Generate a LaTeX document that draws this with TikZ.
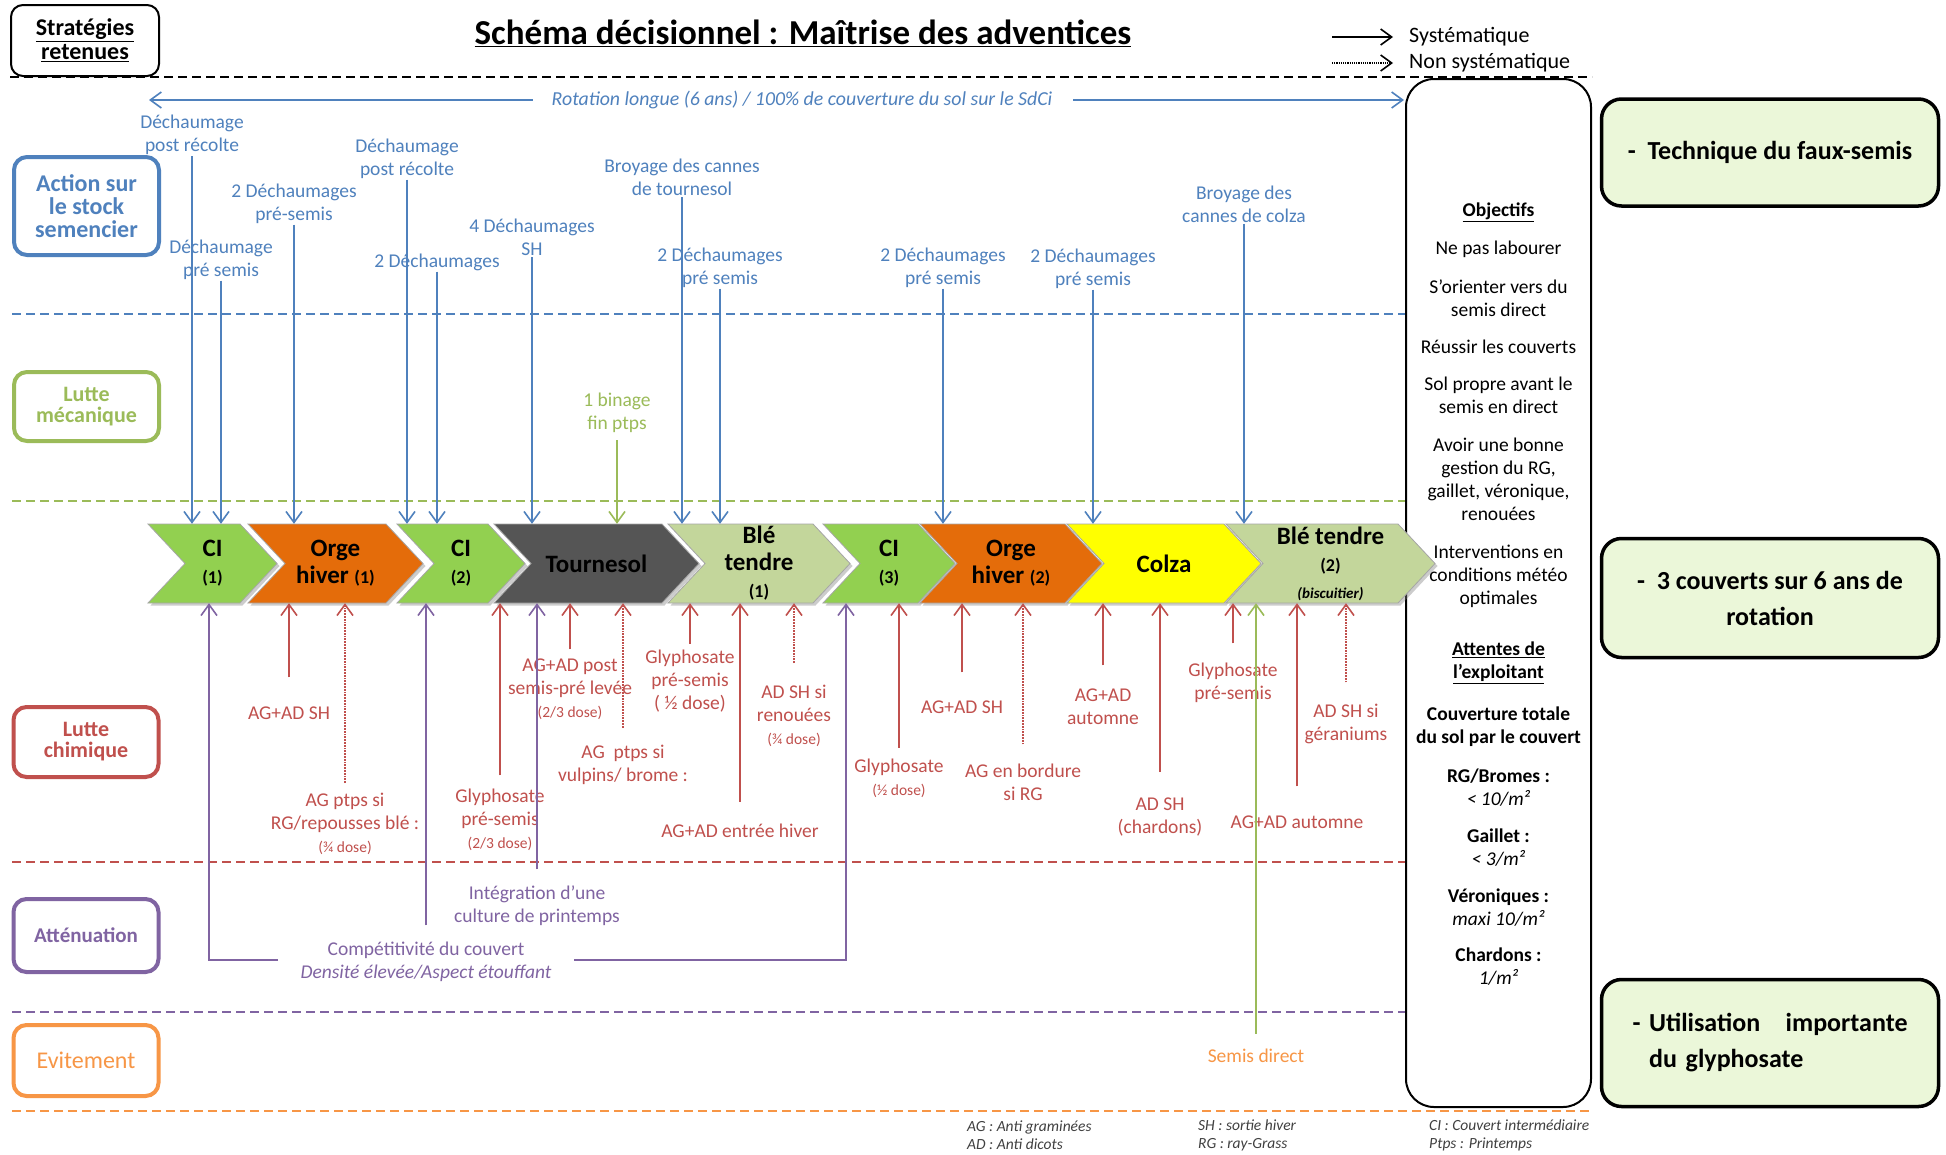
\documentclass[tikz,border=0pt]{standalone}
\usepackage{fontspec}
\setmainfont{Carlito}
\usetikzlibrary{arrows.meta,shadows,positioning}
\definecolor{advblue}{HTML}{4F81BD}
\definecolor{advgreen}{HTML}{9BBB59}
\definecolor{advred}{HTML}{C0504D}
\definecolor{advpurple}{HTML}{8064A2}
\definecolor{advorange}{HTML}{F79646}
\definecolor{cigreen}{HTML}{92D050}
\definecolor{orgeorange}{HTML}{E46C0A}
\definecolor{tourgray}{HTML}{555555}
\definecolor{bleolive}{HTML}{C3D69B}
\definecolor{colzayellow}{HTML}{FFFF00}
\definecolor{stratfill}{HTML}{EBF7D9}
\definecolor{legendgray}{HTML}{404040}
\newcommand{\rang}[1]{{\fontsize{18}{20}\selectfont #1}}
\newcommand{\dose}[1]{{\fontsize{15.5}{17}\selectfont #1}}
% une culture de la rotation : nom, bord gauche, bord droit, couleur, texte
\newcommand{\chevron}[5]{%
  \filldraw[fill=#4, draw=black!35, line width=0.8pt,
    drop shadow={opacity=0.4, shadow xshift=2.5pt, shadow yshift=-2.5pt}]
    (#2,524) -- (#3,524) -- (#3+37,563.5) -- (#3,603) -- (#2,603) -- (#2+37,563.5) -- cycle;
  \node[crop] (#1) at ({(#2+#3+37)/2},563.5) {#5};}

\begin{document}
\begin{tikzpicture}[
    x=1pt, y=-1pt,
    lbl/.style={align=center, inner sep=1pt, font=\fontsize{19.5}{23}\selectfont},
    stocklbl/.style={lbl, text=advblue},
    mecalbl/.style={lbl, text=advgreen},
    chemlbl/.style={lbl, text=advred},
    attlbl/.style={lbl, text=advpurple},
    evitlbl/.style={lbl, text=advorange},
    objlbl/.style={lbl, text=black},
    leg/.style={anchor=west, align=left, inner sep=0pt, text=legendgray,
        font=\itshape\fontsize{15.5}{18}\selectfont},
    catbox/.style={draw=#1, text=#1, line width=4pt, rounded corners=13pt, fill=white,
        minimum width=145pt, align=center, font=\bfseries\fontsize{22}{21}\selectfont},
    crop/.style={align=center, inner sep=0pt, minimum height=79pt,
        font=\bfseries\fontsize{25}{27}\selectfont},
    stratbox/.style={draw=black, line width=3.5pt, rounded corners=20pt, fill=stratfill,
        minimum width=337pt, font=\bfseries\fontsize{26}{36}\selectfont},
    sep/.style={line width=2pt, dash pattern=on 9pt off 5pt},
    flow/.style={line width=1.8pt, -{Straight Barb[length=11pt, width=16pt, line width=1.6pt]}},
    stock/.style={flow, advblue},
    meca/.style={flow, advgreen},
    chem/.style={flow, advred},
    chemopt/.style={chem, densely dotted},
    att/.style={flow, advpurple}
]
\useasboundingbox (0,0) rectangle (1946,1154);
\fill[white] (0,0) rectangle (1946,1154);

% bandes
\draw[sep, black] (10,77) -- (1592,77);
\foreach \y/\c in {314/advblue, 501/advgreen, 862/advred, 1012/advpurple, 1111/advorange}
  \draw[sep, \c] (12,\y) -- (1592,\y);

% titre et legende
\node[draw, line width=2pt, rounded corners=12pt, minimum width=148pt, minimum height=71pt,
  align=center, font=\bfseries\fontsize{24}{24}\selectfont] (strat) at (85,40.5)
  {\underline{Stratégies}\\\underline{retenues}};
\node[font=\bfseries\fontsize{35}{40}\selectfont] (titre) at (803,33)
  {\underline{Schéma décisionnel : Maîtrise des adventices}};
\node[anchor=west, inner sep=1pt, font=\fontsize{22}{24}\selectfont] (syst) at (1408,37) {Systématique};
\node[anchor=west, inner sep=1pt, font=\fontsize{22}{24}\selectfont] (nonsyst) at (1408,63) {Non systématique};
\coordinate (systA) at (1332,37);
\coordinate (nonsystA) at (1332,63);
\draw[flow, black, line width=1.5pt] (systA) -- ([xshift=-15pt]syst.west);
\draw[flow, black, line width=1.2pt, densely dotted] (nonsystA) -- ([xshift=-15pt]nonsyst.west);

\node[stocklbl, font=\itshape\fontsize{19.8}{22}\selectfont] (rot) at (802,100)
  {Rotation longue (6 ans) / 100\% de couverture du sol sur le SdCi};
\coordinate (rotG) at (149,100);
\coordinate (rotD) at (1404,100);
\draw[stock, shorten <=18pt] (rot.west) -- (rotG);
\draw[stock, shorten <=20pt] (rot.east) -- (rotD);

% objectifs
\node[draw, line width=2pt, rounded corners=28pt, fill=white, minimum width=185pt,
  minimum height=1028pt] (objbox) at (1498.5,593) {};
\foreach \y/\t [count=\i] in {
    212/{\textbf{\underline{Objectifs}}},
    249/{Ne pas labourer},
    298.5/{S’orienter vers du\\semis direct},
    347/{Réussir les couverts},
    395.5/{Sol propre avant le\\semis en direct},
    479.5/{Avoir une bonne\\gestion du RG,\\gaillet, véronique,\\renouées},
    576/{Interventions en\\conditions météo\\optimales},
    663/{\textbf{\underline{Attentes de}}\\\textbf{\underline{l’exploitant}}},
    727/{\textbf{Couverture totale}\\\textbf{du sol par le couvert}},
    787.5/{\textbf{RG/Bromes :}\\\textit{< 10/m²}},
    848/{\textbf{Gaillet :}\\\textit{< 3/m²}},
    908/{\textbf{Véroniques :}\\\textit{maxi 10/m²}},
    966.5/{\textbf{Chardons :}\\\textit{1/m²}}}
  \node[objlbl] (obj\i) at (1498.5,\y) {\t};

% strategies retenues
\node[stratbox, minimum height=107pt] (faux) at (1770,152.5) {-~~Technique du faux-semis};
\node[stratbox, minimum height=119pt, align=center] (couv) at (1770,598)
  {-~~3 couverts sur 6 ans de\\rotation};
\node[stratbox, minimum height=127pt, align=left, text width=275pt] (glypho) at (1770,1043)
  {-~Utilisation\hfill importante\\\phantom{-~}du glyphosate};

% leviers
\node[catbox=advblue, minimum height=98pt, font=\bfseries\fontsize{24}{23}\selectfont] (stock) at (86.5,206)
  {Action sur\\le stock\\semencier};
\node[catbox=advgreen, minimum height=69pt] (meca) at (86.5,406.5) {Lutte\\mécanique};
\node[catbox=advred, minimum height=70pt] (chim) at (86,742) {Lutte\\chimique};
\node[catbox=advpurple, minimum height=73pt, font=\bfseries\fontsize{21}{21}\selectfont] (attn) at (86,935.5) {Atténuation};
\node[catbox=advorange, minimum height=71pt, font=\fontsize{24}{24}\selectfont] (evit) at (86,1060.5) {Evitement};

% rotation
\chevron{ci1}{148}{240}{cigreen}{CI\\\rang{(1)}}
\chevron{oh1}{248}{386}{orgeorange}{Orge\\hiver \rang{(1)}}
\chevron{ci2}{397}{488}{cigreen}{CI\\\rang{(2)}}
\chevron{tour}{494}{662}{tourgray}{Tournesol}
\chevron{bt1}{668}{813}{bleolive}{Blé\\tendre\\\rang{(1)}}
\chevron{ci3}{823}{918}{cigreen}{CI\\\rang{(3)}}
\chevron{oh2}{920}{1065}{orgeorange}{Orge\\hiver \rang{(2)}}
\chevron{colza}{1067}{1224}{colzayellow}{Colza}
\chevron{bt2}{1226}{1398}{bleolive}{Blé tendre\\\rang{(2)}\\{\fontsize{15}{17}\selectfont\itshape (biscuitier)}}

% action sur le stock semencier
\node[stocklbl] (dprA) at (192,135) {Déchaumage\\post récolte};
\node[stocklbl] (dpsA) at (221,259.5) {Déchaumage\\pré semis};
\node[stocklbl] (ddsA) at (294,203.5) {2 Déchaumages\\pré-semis};
\node[stocklbl] (dprB) at (407,158.5) {Déchaumage\\post récolte};
\node[stocklbl] (ddB) at (437,262) {2 Déchaumages};
\node[stocklbl] (ddsh) at (532,237.5) {4 Déchaumages\\SH};
\node[stocklbl] (btour) at (682,177.5) {Broyage des cannes\\de tournesol};
\node[stocklbl] (ddsB) at (720,267.5) {2 Déchaumages\\pré semis};
\node[stocklbl] (ddsC) at (943,267.5) {2 Déchaumages\\pré semis};
\node[stocklbl] (ddsD) at (1093,268.5) {2 Déchaumages\\pré semis};
\node[stocklbl] (bcolza) at (1244,204) {Broyage des\\cannes de colza};
\foreach \a/\b in {dprA/ci1, dpsA/ci1, ddsA/oh1, dprB/ci2, ddB/ci2, ddsh/tour,
    btour/bt1, ddsB/bt1, ddsC/oh2, ddsD/colza, bcolza/bt2}
  \draw[stock] (\a.south) -- (\a.south |- \b.north);

% lutte mecanique
\node[mecalbl] (binage) at (617,413) {1 binage\\fin ptps};
\draw[meca, shorten <=6pt] (binage.south) -- (binage.south |- tour.north);

% lutte chimique
\node[chemlbl] (agadA) at (289,713) {AG+AD SH};
\node[chemlbl] (agptps) at (345,824) {AG ptps si\\RG/repousses blé :\\\dose{(¾ dose)}};
\node[chemlbl] (glypsA) at (500,819.5) {Glyphosate\\pré-semis\\\dose{(2/3 dose)}};
\node[chemlbl] (agpost) at (570,689) {AG+AD post\\semis-pré levée\\\dose{(2/3 dose)}};
\node[chemlbl] (agvulp) at (623,764.5) {AG~~ptps si\\vulpins/ brome :};
\node[chemlbl] (glypsB) at (690,681) {Glyphosate\\pré-semis\\( ½ dose)};
\node[chemlbl] (agadeh) at (740,831) {AG+AD entrée hiver};
\node[chemlbl] (adshren) at (794,716) {AD SH si\\renouées\\\dose{(¾ dose)}};
\node[chemlbl] (glyC) at (899,778.5) {Glyphosate\\\dose{(½ dose)}};
\node[chemlbl] (agadB) at (962,707) {AG+AD SH};
\node[chemlbl] (agbord) at (1023,782) {AG en bordure\\si RG};
\node[chemlbl] (agadautA) at (1103,706.5) {AG+AD\\automne};
\node[chemlbl] (adshch) at (1160,817.5) {AD SH\\(chardons)};
\node[chemlbl] (glypsC) at (1233,682.5) {Glyphosate\\pré-semis};
\node[chemlbl] (agadautB) at (1297,822) {AG+AD automne};
\node[chemlbl] (adshger) at (1346,723.5) {AD SH si\\géraniums};
\foreach \a/\b/\s in {agadA/oh1/28, glypsA/tour/12, agpost/tour/8, glypsB/bt1/5, agadeh/bt1/21,
    glyC/ci3/10, agadB/oh2/27, agadautA/colza/22, adshch/colza/25, glypsC/bt2/18, agadautB/bt2/28}
  \draw[chem, shorten <=\s pt] (\a.north) -- (\a.north |- \b.south);
\foreach \a/\b/\s in {agptps/oh1/9, agvulp/tour/16, adshren/bt1/21, agbord/oh2/18, adshger/bt2/20}
  \draw[chemopt, shorten <=\s pt] (\a.north) -- (\a.north |- \b.south);

% attenuation
\node[attlbl] (integ) at (537,905.5) {Intégration d’une\\culture de printemps};
\node[attlbl] (compet) at (426,961.5) {Compétitivité~du couvert\\\textit{Densité élevée/Aspect étouffant}};
\coordinate (competG) at (278,960);
\coordinate (competD) at (574,960);
\draw[att, shorten <=15pt] (integ.north) -- (integ.north |- tour.south);
\draw[att, shorten <=15pt] (compet.north) -- (compet.north |- ci2.south);
\draw[att] (competG) -| ([xshift=-3.5pt]ci1.south);
\draw[att] (competD) -| ([xshift=-43pt]ci3.south);

% evitement
\node[evitlbl] (semis) at (1256,1056) {Semis direct};
\draw[meca, shorten <=14pt] (semis.north) -- (semis.north |- bt2.south);

% abreviations
\node[leg] (abrA) at (967,1135) {AG : Anti graminées\\AD : Anti dicots};
\node[leg] (abrB) at (1198,1135) {SH : sortie hiver\\RG : ray-Grass};
\node[leg] (abrC) at (1429,1135) {CI : Couvert intermédiaire\\Ptps : Printemps};
\end{tikzpicture}
\end{document}
